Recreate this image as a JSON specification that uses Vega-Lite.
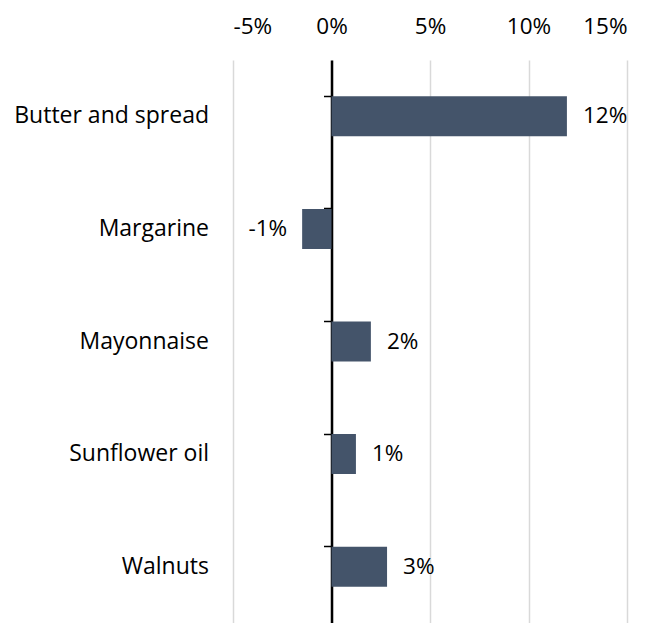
{
  "$schema": "https://vega.github.io/schema/vega-lite/v6.json",
  "autosize": {"type": "none"},
  "padding": {"left": 233, "top": 60, "right": 25, "bottom": 0},
  "width": 394,
  "height": 563,
  "background": "white",
  "config": {"view": {"stroke": null}, "font": "Open Sans",
    "locale": {"number": {"decimal": ".", "thousands": ",", "grouping": [3], "currency": ["$", ""], "minus": "-"}}},
  "data": {"values": [
    {"item": "Butter and spread", "change": 0.1195},
    {"item": "Margarine", "change": -0.0149},
    {"item": "Mayonnaise", "change": 0.0200},
    {"item": "Sunflower oil", "change": 0.0124},
    {"item": "Walnuts", "change": 0.0282}
  ]},
  "encoding": {
    "y": {"field": "item", "type": "nominal", "sort": null,
      "scale": {"paddingInner": 0.645, "paddingOuter": 0.3225},
      "axis": {"title": null, "orient": "left", "offset": -98.5, "domainColor": "black", "domainWidth": 2.5,
        "tickColor": "black", "tickWidth": 1.5, "tickSize": 8, "bandPosition": 0,
        "labelPadding": 115, "labelFontSize": 23, "labelLimit": 400, "labelColor": "black", "labelFont": "Open Sans", "grid": false}},
    "x": {"field": "change", "type": "quantitative",
      "scale": {"domain": [-0.05, 0.15], "nice": false, "zero": false},
      "axis": {"title": null, "orient": "top", "format": ".0%", "values": [-0.05, 0, 0.05, 0.1, 0.15],
        "domain": false, "ticks": false, "labelPadding": 27, "labelBaseline": "alphabetic", "labelFontSize": 22.5, "labelColor": "black",
        "labelFont": "Open Sans", "grid": true, "gridColor": "#d9d9d9", "gridWidth": 1.5}}
  },
  "layer": [
    {"mark": {"type": "bar", "color": "#44546a"}},
    {"transform": [{"filter": "datum.change >= 0"}],
     "mark": {"type": "text", "align": "left", "dx": 16, "fontSize": 22.5, "color": "black", "font": "Open Sans"},
     "encoding": {"text": {"field": "change", "format": ".0%"}}},
    {"transform": [{"filter": "datum.change < 0"}],
     "mark": {"type": "text", "align": "right", "dx": -15, "fontSize": 22.5, "color": "black", "font": "Open Sans"},
     "encoding": {"text": {"field": "change", "format": ".0%"}}}
  ]
}
